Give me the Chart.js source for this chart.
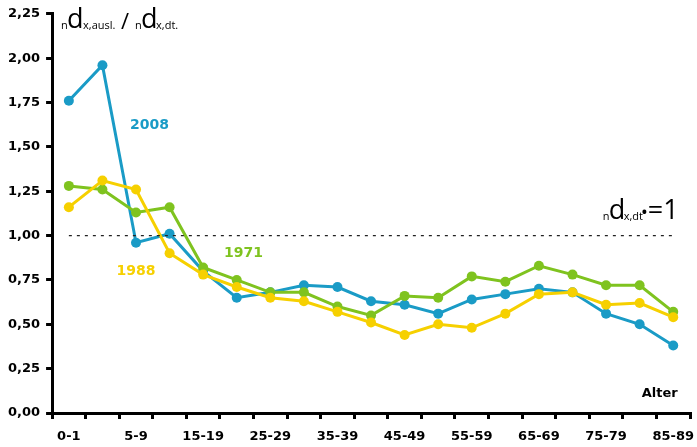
<!DOCTYPE html>
<html>
<head>
<meta charset="utf-8">
<script src="https://cdn.jsdelivr.net/npm/chart.js@4.4.0/dist/chart.umd.min.js"></script>
<style>
  html, body { margin: 0; padding: 0; background: #fff; }
  #wrap { width: 697px; height: 447px; }
</style>
</head>
<body>
<div id="wrap"><canvas id="chart"></canvas></div>
<script>
// Altersgruppen
var ageGroups = ["0-1", "1-4", "5-9", "10-14", "15-19", "20-24", "25-29", "30-34", "35-39", "40-44",
  "45-49", "50-54", "55-59", "60-64", "65-69", "70-74", "75-79", "80-84", "85-89"];

// Werte je Jahr
var values1971 = [1.28, 1.26, 1.13, 1.16, 0.82, 0.75, 0.68, 0.68, 0.60, 0.55,
  0.66, 0.65, 0.77, 0.74, 0.83, 0.78, 0.72, 0.72, 0.57];
var values1988 = [1.16, 1.31, 1.26, 0.90, 0.78, 0.71, 0.65, 0.63, 0.57, 0.51,
  0.44, 0.50, 0.48, 0.56, 0.67, 0.68, 0.61, 0.62, 0.54];
var values2008 = [1.76, 1.96, 0.96, 1.01, 0.80, 0.65, 0.68, 0.72, 0.71, 0.63,
  0.61, 0.56, 0.64, 0.67, 0.70, 0.68, 0.56, 0.50, 0.38];
var referenceLine = ageGroups.map(function() { return 1; });

var yTicks = [0, 0.25, 0.5, 0.75, 1, 1.25, 1.5, 1.75, 2, 2.25];

var blue = "#1a9bc6";
var green = "#7fc31f";
var yellow = "#f6d000";
var fontFam = "'Open Sans', sans-serif";
var boldFam = "'DejaVu Sans', sans-serif";

// Beschriftungen im Diagramm
var textPlugin = {
  id: "texte",
  afterDraw: function(chart) {
    var ctx = chart.ctx;
    var x = chart.scales.x;
    var y = chart.scales.y;
    ctx.save();
    ctx.textBaseline = "alphabetic";

    // Jahreszahlen
    ctx.font = "bold 14px " + boldFam;
    ctx.textAlign = "center";
    ctx.fillStyle = blue;
    ctx.fillText("2008", x.getPixelForValue(2.4), y.getPixelForValue(1.6));
    ctx.fillStyle = green;
    ctx.fillText("1971", x.getPixelForValue(5.2), y.getPixelForValue(0.88));
    ctx.fillStyle = yellow;
    ctx.fillText("1988", x.getPixelForValue(2.0), y.getPixelForValue(0.78));

    ctx.font = "bold 13px " + boldFam;
    ctx.fillStyle = "#000";
    ctx.fillText("Alter", x.getPixelForValue(17.6), y.getPixelForValue(0.09));

    // Achsentitel
    var bx = chart.chartArea.left + 9;
    var by = chart.chartArea.top + 15;
    ctx.textAlign = "left";
    ctx.font = "11px " + fontFam;
    ctx.fillText("n", bx, by);
    ctx.font = "27px " + fontFam;
    ctx.fillText("d", bx + 6, by - 1);
    ctx.font = "11px " + fontFam;
    ctx.fillText("x,ausl.", bx + 22, by);
    ctx.font = "22px " + fontFam;
    ctx.fillText("/", bx + 60, by);
    ctx.font = "11px " + fontFam;
    ctx.fillText("n", bx + 74, by);
    ctx.font = "27px " + fontFam;
    ctx.fillText("d", bx + 80, by - 1);
    ctx.font = "11px " + fontFam;
    ctx.fillText("x,dt.", bx + 95, by);

    // Referenzlinie
    var rx = x.getPixelForValue(15.9);
    var ry = y.getPixelForValue(1) - 16;
    ctx.font = "11px " + fontFam;
    ctx.fillText("n", rx, ry);
    ctx.font = "27px " + fontFam;
    ctx.fillText("d", rx + 6, ry - 1);
    ctx.font = "11px " + fontFam;
    ctx.fillText("x,dt", rx + 21, ry);
    ctx.font = "bold 14px " + fontFam;
    ctx.fillText("\u2022", rx + 39, ry - 3);
    ctx.font = "27px " + fontFam;
    ctx.fillText("=1", rx + 45, ry - 1);
    ctx.restore();
  }
};

var ctxLine = document.getElementById("chart");
var lineGraph = new Chart(ctxLine, {
  type: "line",
  data: {
    labels: ageGroups,
    datasets: [
      {
        label: "ref",
        data: referenceLine,
        borderColor: "#222",
        borderWidth: 1.3,
        borderDash: [3, 5],
        pointRadius: 0
      },
      {
        label: "1988",
        data: values1988,
        borderColor: yellow,
        backgroundColor: yellow,
        borderWidth: 3,
        pointRadius: 5,
        pointBorderWidth: 0
      },
      {
        label: "1971",
        data: values1971,
        borderColor: green,
        backgroundColor: green,
        borderWidth: 3,
        pointRadius: 5,
        pointBorderWidth: 0
      },
      {
        label: "2008",
        data: values2008,
        borderColor: blue,
        backgroundColor: blue,
        borderWidth: 3,
        pointRadius: 5,
        pointBorderWidth: 0
      }
    ]
  },
  options: {
    responsive: true,
    maintainAspectRatio: false,
    animation: false,
    layout: { padding: { top: 8, right: 7, left: 2, bottom: 0 } },
    plugins: {
      legend: { display: false },
      tooltip: { enabled: false }
    },
    scales: {
      x: {
        offset: true,
        afterFit: function(axis) {
          axis.height = 34;
          axis.paddingLeft = 0;
          axis.paddingRight = 0;
        },
        grid: {
          offset: true,
          drawOnChartArea: false,
          drawTicks: true,
          tickLength: 6,
          color: "#000",
          lineWidth: 3
        },
        border: { color: "#000", width: 3 },
        ticks: {
          autoSkip: false,
          maxRotation: 0,
          padding: 10,
          color: "#000",
          font: { family: boldFam, size: 13, weight: "bold" },
          callback: function(value, index) {
            return index % 2 === 0 ? ageGroups[index] : "";
          }
        }
      },
      y: {
        min: 0,
        max: 2.25,
        afterBuildTicks: function(axis) {
          axis.ticks = yTicks.map(function(v) { return { value: v }; });
        },
        grid: {
          drawOnChartArea: false,
          drawTicks: true,
          tickLength: 6,
          color: "#000",
          lineWidth: 3
        },
        border: { color: "#000", width: 3 },
        ticks: {
          color: "#000",
          padding: 6,
          font: { family: boldFam, size: 13, weight: "bold" },
          callback: function(value) {
            return value.toFixed(2).replace(".", ",");
          }
        }
      }
    }
  },
  plugins: [textPlugin]
});
</script>
</body>
</html>
